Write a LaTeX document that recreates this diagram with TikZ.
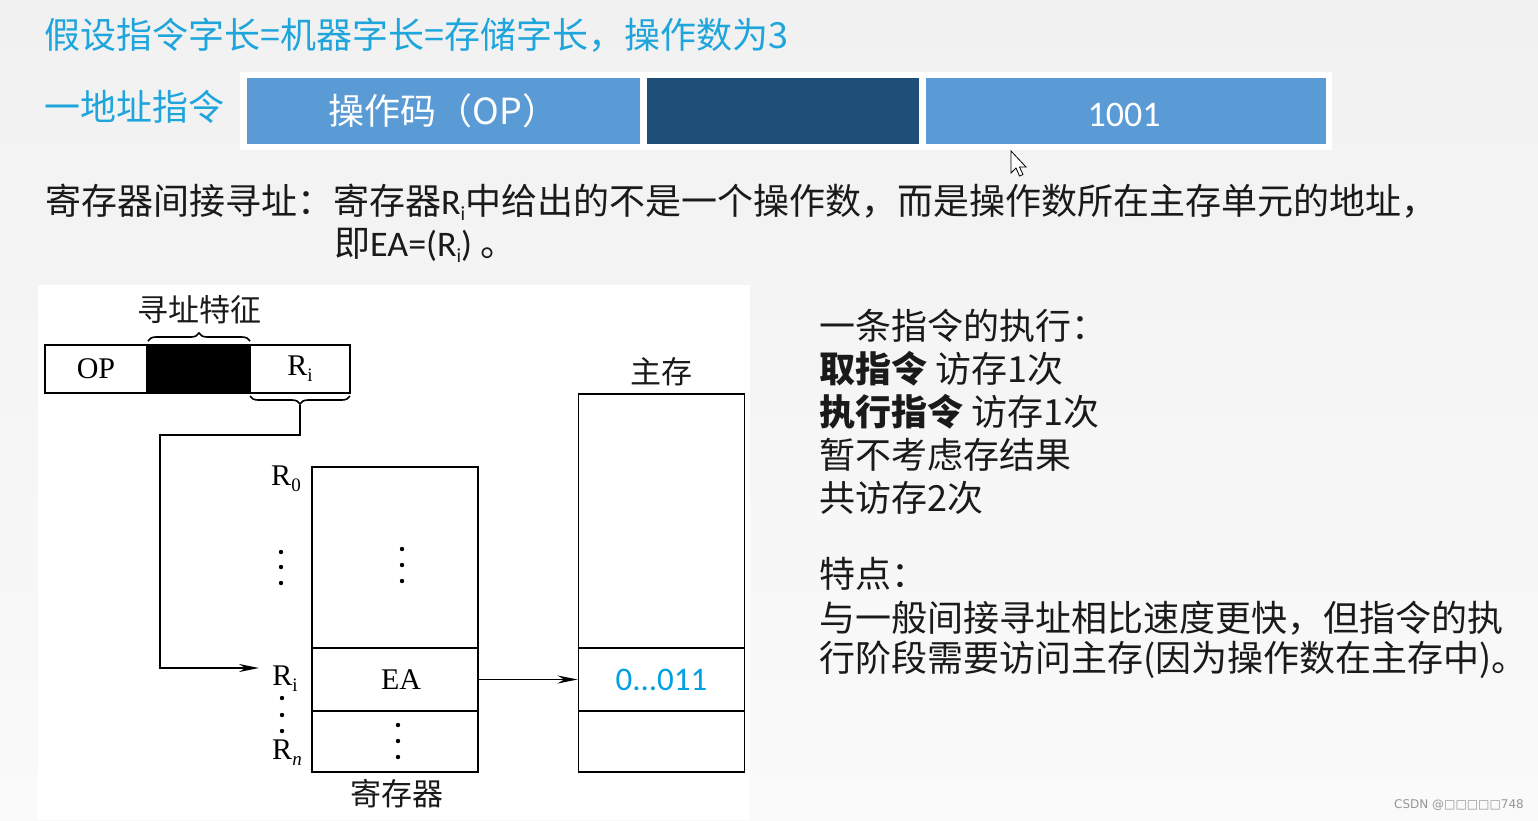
\documentclass[tikz,border=0pt]{standalone}
\usepackage{fontspec}
\setmainfont{Noto Sans CJK SC}
\newfontfamily\lat{Carlito}
\newfontfamily\ser{Liberation Serif}
\newfontfamily\dv{DejaVu Sans}
\usetikzlibrary{arrows.meta,decorations.pathreplacing}
\definecolor{ttl}{RGB}{30,165,220}
\definecolor{valc}{RGB}{0,160,228}
\definecolor{barL}{RGB}{91,155,213}
\definecolor{barD}{RGB}{31,78,121}
\definecolor{txtc}{RGB}{26,26,26}
\newcommand\fsz[1]{\fontsize{#1}{#1}\selectfont}
\newcommand\sersub[1]{\raisebox{-6pt}{\fsz{19}#1}}
\newcommand\latsub[1]{\raisebox{-6pt}{\fsz{20}#1}}
\tikzset{
  body/.style={anchor=west, inner sep=0pt, text=txtc, font=\fsz{36}},
  bluet/.style={anchor=west, inner sep=0pt, text=ttl, font=\fsz{36}},
  barcell/.style={inner sep=0pt, text=white, font=\fsz{36}},
  cell/.style={draw=black, line width=1.8pt, inner sep=0pt, font=\ser\fsz{30}},
  lbl/.style={inner sep=0pt, font=\ser\fsz{30}},
  cjkl/.style={inner sep=0pt, font=\fsz{31}, text=txtc},
  conn/.style={line width=1.8pt},
  tipc/.style={-{Stealth[length=20pt,width=8pt]}},
  brc/.style={line width=1.6pt, decorate, decoration={brace, amplitude=8pt}},
  dotc/.style={fill=black},
}
\begin{document}
\begin{tikzpicture}[x=1pt,y=-1pt]
\useasboundingbox (0,0) rectangle (1538,820);
\shade[top color={rgb,255:red,241;green,241;blue,241}, bottom color={rgb,255:red,250;green,250;blue,250}] (0,0) rectangle (1538,820);
\fill[white] (38,285) rectangle (750,820);

% title
\node[bluet] (title) at (44,35) {假设指令字长=机器字长=存储字长，操作数为3};
\node[bluet] (oneaddr) at (44,107) {一地址指令};

% instruction bar
\fill[white] (240,72) rectangle (1332,150);
\node[barcell, fill=barL, minimum width=393pt, minimum height=66pt] (opf) at (443.5,111) {操作码（OP）};
\node[barcell, fill=barD, minimum width=272pt, minimum height=66pt] (modef) at (783,111) {};
\node[barcell, fill=barL, minimum width=400pt, minimum height=66pt] (addrf) at (1126,111) {};
\node[inner sep=0pt, text=white, font=\lat\fsz{36}] (addrt) at (1124,115) {1001};

% mouse cursor
\draw[fill=white, line width=0.8pt, shift={(1011,151)}] (0,0) -- (0,22) -- (5,17) -- (8.5,25) -- (12,23.5) -- (8.5,16) -- (15,16) -- cycle;

% description
\node[body] (desc1) at (45,202) {寄存器间接寻址：寄存器{\lat R\latsub{i}}中给出的不是一个操作数，而是操作数所在主存单元的地址，};
\node[body] (desc2) at (334,245) {即{\lat EA=(R\latsub{i})} 。};

% instruction format
\node[cjkl] (feat) at (199,310) {寻址特征};
\node[cell, minimum width=102pt, minimum height=48pt] (op) at (96,369) {OP};
\node[cell, fill=black, minimum width=103pt, minimum height=48pt] (blk) at (198.5,369) {};
\node[cell, minimum width=100pt, minimum height=48pt] (ri) at (300,369) {R\sersub{i}};
\draw[brc] (148,341) -- (250,341);
\draw[brc] (350,396) -- (250,396);
\coordinate (tip) at (300,405);
\coordinate (c1) at (160,435);
\coordinate (ria) at (259,668);

% registers
\node[lbl] (r0) at (286,479) {R\sersub{0}};
\node[lbl] (ril) at (285,679) {R\sersub{i}};
\node[lbl] (rn) at (287,753) {R\sersub{\itshape n}};
\node[cell, minimum width=166pt, minimum height=181pt] (rtop) at (395,557.5) {};
\node[cell, minimum width=166pt, minimum height=63pt] (rea) at (395,679.5) {};
\node[lbl] (eat) at (401,680) {EA};
\node[cell, minimum width=166pt, minimum height=61pt] (rbot) at (395,741.5) {};
\node[cjkl] (regname) at (397,794) {寄存器};

% main memory
\node[cjkl] (memname) at (661,372) {主存};
\node[cell, minimum width=166pt, minimum height=254pt] (mtop) at (661.5,521) {};
\node[cell, minimum width=166pt, minimum height=63pt, font=\lat\fsz{33}, text=valc] (mval) at (661.5,679.5) {0...011};
\node[cell, minimum width=166pt, minimum height=61pt] (mbot) at (661.5,741.5) {};

% dots
\foreach \x/\y in {281/552, 281/567, 281/583, 402/549, 402/565, 402/581, 282/698, 282/715, 282/731, 398/725, 398/741, 398/757}
  \fill[dotc] (\x,\y) circle (2.2);

% connectors
\draw[conn, tipc] (tip) |- (c1) |- (ria);
\draw[conn, tipc] (rea.east) -- (mval.west);

% right text
\node[body] (t1) at (819,326) {一条指令的执行：};
\node[body] (t2) at (819,369) {{\bfseries 取指令} 访存1次};
\node[body] (t3) at (819,412) {{\bfseries 执行指令} 访存1次};
\node[body] (t4) at (819,455) {暂不考虑存结果};
\node[body] (t5) at (819,498) {共访存2次};
\node[body] (t6) at (819,574) {特点：};
\node[body] (t7) at (819,618) {与一般间接寻址相比速度更快，但指令的执};
\node[body] (t8) at (819,660) {行阶段需要访问主存(因为操作数在主存中)。};

% watermark
\node[inner sep=0pt, anchor=east, text={rgb,255:red,150;green,150;blue,150}, font=\dv\fsz{12}] (wm) at (1524,805) {CSDN @□□□□□748};
\end{tikzpicture}
\end{document}
